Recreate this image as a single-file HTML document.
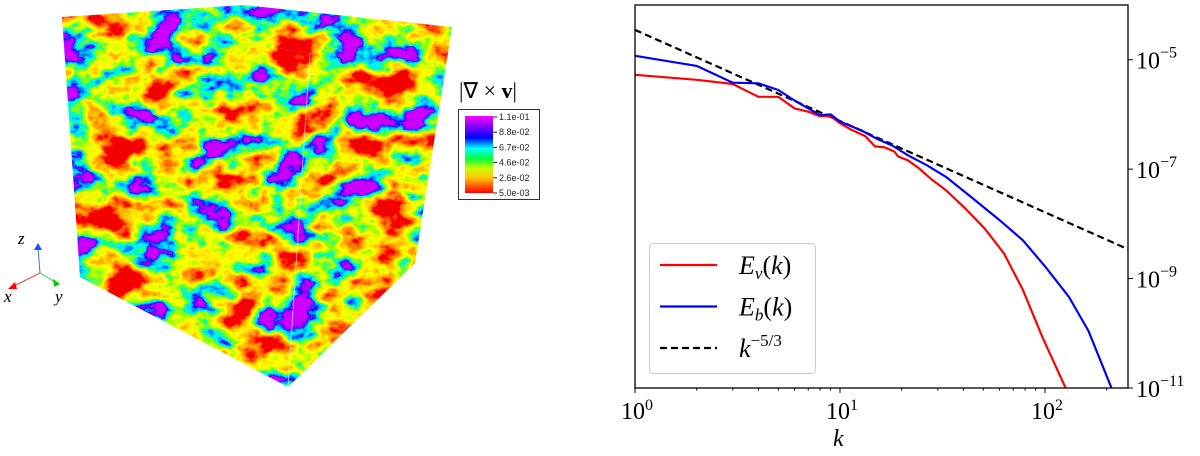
<!DOCTYPE html>
<html><head><meta charset="utf-8"><style>
html,body{margin:0;padding:0;background:#fff;width:1200px;height:456px;overflow:hidden}
svg{position:absolute;left:0;top:0}
</style></head><body>
<svg id="s" width="1200" height="456" viewBox="0 0 1200 456">
<defs>
<filter id="vort" x="0" y="0" width="100%" height="100%">
<feTurbulence type="fractalNoise" baseFrequency="0.022 0.03" numOctaves="5" seed="11" result="n"/>
<feColorMatrix in="n" type="matrix" values="2.2 0 0 0 -0.6  2.2 0 0 0 -0.6  2.2 0 0 0 -0.6  0 0 0 0 1"/>
<feComponentTransfer>
<feFuncR type="table" tableValues="0.9 1 1 1 1 1 1 0.7 0.2 0 0 0 0 0.4 0.6"/>
<feFuncG type="table" tableValues="0 0 0.1 0.3 0.5 0.8 1 1 1 1 0.9 0.3 0 0 0"/>
<feFuncB type="table" tableValues="0 0 0 0 0 0 0 0 0 0.2 1 1 1 1 1"/>
</feComponentTransfer>
</filter>
<clipPath id="cf"><polygon points="62,17 310,53 288,387 80,277"/></clipPath>
<clipPath id="ct"><polygon points="62,17 243,5 452,27 310,53"/></clipPath>
<clipPath id="cr"><polygon points="310,53 452,27 415,263 288,387"/></clipPath>
<linearGradient id="cbar" x1="0" y1="1" x2="0" y2="0">
<stop offset="0" stop-color="#ff0000"/><stop offset="0.2" stop-color="#ffc800"/><stop offset="0.32" stop-color="#c8ff00"/>
<stop offset="0.45" stop-color="#00ff40"/><stop offset="0.58" stop-color="#00ffff"/><stop offset="0.72" stop-color="#0000ff"/>
<stop offset="0.86" stop-color="#8000ff"/><stop offset="1" stop-color="#ff00ff"/>
</linearGradient>
</defs>
<g>
<g clip-path="url(#cf)"><rect x="55" y="10" width="260" height="380" fill="#f00" filter="url(#vort)"/></g>
<g clip-path="url(#ct)"><rect x="55" y="0" width="400" height="60" fill="#f00" filter="url(#vort)"/></g>
<g clip-path="url(#cr)"><rect x="285" y="20" width="170" height="370" fill="#f00" filter="url(#vort)"/></g>
<line x1="310" y1="53" x2="288" y2="387" stroke="#fff" stroke-opacity="0.5" stroke-width="1"/>
</g>
<g>
<line x1="40" y1="273" x2="38" y2="248" stroke="#3a6cff" stroke-width="1"/><polygon points="38,243 34,250 42,250" fill="#1b4cff"/>
<line x1="40" y1="273" x2="14" y2="286" stroke="#ff4040" stroke-width="1"/><polygon points="8,289 15,282 17,289" fill="#f00"/>
<line x1="40" y1="273" x2="55" y2="282" stroke="#30d030" stroke-width="1"/><polygon points="60,284 53,279 54,287" fill="#0c0"/>
<text x="18" y="244" font-family="Liberation Serif,serif" font-style="italic" font-size="17">z</text>
<text x="4" y="302" font-family="Liberation Serif,serif" font-style="italic" font-size="17">x</text>
<text x="55" y="302" font-family="Liberation Serif,serif" font-style="italic" font-size="17">y</text>
</g>
<g>
<text x="459" y="98" font-family="Liberation Serif,serif" font-size="22">|∇ × <tspan font-weight="bold">v</tspan>|</text>
<rect x="458.5" y="109.5" width="81" height="90" fill="#fff" stroke="#333" stroke-width="1"/>
<rect x="465" y="116" width="28" height="77" fill="url(#cbar)"/>
<g font-family="Liberation Sans,sans-serif" font-size="9" fill="#222" id="cbl"></g>
</g>
<g id="chart"></g>
</svg>
<script>
const cbLabels=["1.1e-01","8.8e-02","6.7e-02","4.6e-02","2.6e-02","5.0e-03"];
const kV=[1,2,3,4,5,6,7,8,9,10,11.2,13.3,14.8,16.5,18.4,19.2,21.4,24.3,27.7,32.9,40.9,50.7,63,78,97,126];
const eV=[5.3e-6,4.3e-6,3.6e-6,2.1e-6,2.1e-6,1.29e-6,1.12e-6,9.3e-7,9.3e-7,6.9e-7,5.4e-7,4.0e-7,2.6e-7,2.5e-7,2.1e-7,1.7e-7,1.46e-7,1.03e-7,6.7e-8,4.1e-8,1.9e-8,8.3e-9,2.9e-9,6.2e-10,8.6e-11,1e-11];
const kB=[1,2,3,4,5,6,8,9,10,12.7,15.1,18,21.4,26.5,32.9,44.6,60,78,101,131,163,211];
const eB=[1.18e-5,7.7e-6,3.8e-6,3.7e-6,2.8e-6,1.8e-6,9.7e-7,1.0e-6,7.4e-7,5.1e-7,3.6e-7,2.7e-7,1.8e-7,1.18e-7,7.2e-8,2.9e-8,1.17e-8,5.0e-9,1.6e-9,4.6e-10,1.1e-10,1e-11];
const refC=[3.5e-5];
const xTicks=[1,10,100], xTickLab=["0","1","2"];
const yTicks=[1e-5,1e-7,1e-9,1e-11], yTickLab=["−5","−7","−9","−11"];
const NS="http://www.w3.org/2000/svg";
const L=635,R=1128,T=5,B=388,kMin=1,kMax=254,eMin=1e-11,eMax=1e-4;
const X=k=>L+(Math.log10(k)-Math.log10(kMin))/(Math.log10(kMax)-Math.log10(kMin))*(R-L);
const Y=e=>B-(Math.log10(e)-Math.log10(eMin))/(Math.log10(eMax)-Math.log10(eMin))*(B-T);
function mk(t,a,p){const e=document.createElementNS(NS,t);for(const k in a)e.setAttribute(k,a[k]);(p||g).appendChild(e);return e;}
const g=document.getElementById('chart');
const cb=document.getElementById('cbl');
cbLabels.forEach((t,i)=>{const y=117+i*15.2;
 mk('line',{x1:493,x2:497,y1:y,y2:y,stroke:'#222'},cb);
 const tx=mk('text',{x:499,y:y+3},cb);tx.textContent=t;
 
 });
const cp=mk('clipPath',{id:'plotclip'});mk('rect',{x:L,y:T,width:R-L,height:B-T},cp);
function line(ks,es,col,name,dash){const d=ks.map((k,i)=>(i?'L':'M')+X(k).toFixed(1)+','+Y(es[i]).toFixed(1)).join('');
 const p=mk('path',{d:d,fill:'none',stroke:col,'stroke-width':2.2,'stroke-linejoin':'round','clip-path':'url(#plotclip)'});
 if(dash)p.setAttribute('stroke-dasharray',dash);
 
 }
line([kMin,kMax],[refC[0],refC[0]*Math.pow(kMax,-5/3)],'#000','reference-k-minus-5-3','7,4');
line(kV,eV,'#ff0000','series-ev');
line(kB,eB,'#0000ff','series-eb');
const fr=mk('rect',{x:L,y:T,width:R-L,height:B-T,fill:'none',stroke:'#000','stroke-width':1.3});


const ff='Liberation Serif,serif';
xTicks.forEach((k,i)=>{const x=X(k);mk('line',{x1:x,x2:x,y1:B,y2:B+5,stroke:'#000'});
 for(let m=2;m<10;m++){const v=k*m;if(v<kMax){const xm=X(v);mk('line',{x1:xm,x2:xm,y1:B,y2:B+2.5,stroke:'#000'});}}
 const t=mk('text',{x:x-14,y:B+31,'font-family':ff,'font-size':24});t.textContent='10';
 
 
 const s=mk('tspan',{dy:-9,'font-size':16},t);s.textContent=xTickLab[i];});
yTicks.forEach((e,i)=>{const y=Y(e);mk('line',{x1:R,x2:R+5,y1:y,y2:y,stroke:'#000'});
 const t=mk('text',{x:R+8,y:y+9,'font-family':ff,'font-size':24});t.textContent='10';
 
 
 const s=mk('tspan',{dy:-11,'font-size':16},t);s.textContent=yTickLab[i];});
const xl=mk('text',{x:833,y:446,'font-family':ff,'font-style':'italic','font-size':24});xl.textContent='k';


const lg=mk('g',{});


mk('rect',{x:649.5,y:243.5,width:166,height:130,rx:4,fill:'#fff','fill-opacity':0.85,stroke:'#ccc'},lg);
const ent=[['#ff0000',null,'E','v'],['#0000ff',null,'E','b'],['#000','7,4','k','']];
ent.forEach((en,i)=>{const y=265+i*41.5;
 const l=mk('line',{x1:660,x2:717,y1:y,y2:y,stroke:en[0],'stroke-width':2.2},lg);if(en[1])l.setAttribute('stroke-dasharray',en[1]);
 const t=mk('text',{x:739,y:y+9,'font-family':ff,'font-style':'italic','font-size':26},lg);
 
 
 if(i<2){t.textContent='E';const s=mk('tspan',{'font-size':17,dy:5},t);s.textContent=en[3];
  const s2=mk('tspan',{dy:-5,'font-style':'normal'},t);s2.textContent='(';const s3=mk('tspan',{},t);s3.textContent='k';const s4=mk('tspan',{'font-style':'normal'},t);s4.textContent=')';}
 else{t.textContent='k';const s=mk('tspan',{'font-size':17,dy:-11,'font-style':'normal'},t);s.textContent='−5/3';}});
</script>
</body></html>
